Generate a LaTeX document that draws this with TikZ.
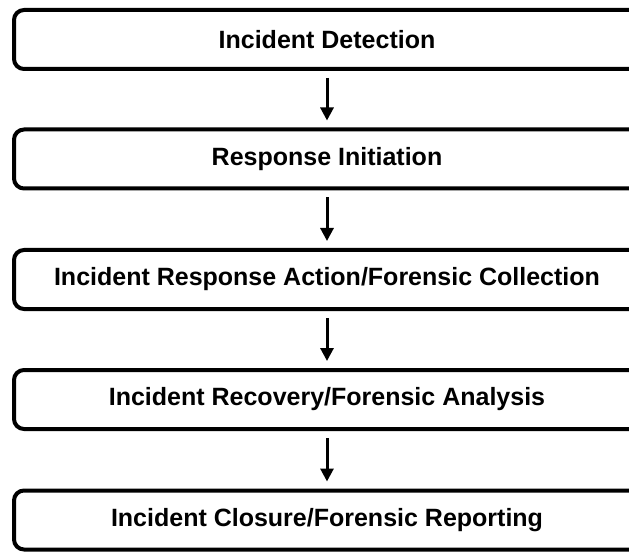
\documentclass[tikz,border=0pt]{standalone}
\usepackage{fontspec}
\setmainfont{Liberation Sans}
\usetikzlibrary{positioning,arrows.meta}

\begin{document}
\begin{tikzpicture}[x=1pt, y=1pt,
    stage/.style={draw, line width=4pt, rounded corners=10pt, minimum width=626pt, minimum height=59pt, font=\fontsize{25}{30}\selectfont\bfseries},
    flow/.style={-{Triangle[length=13pt,width=13pt]}, line width=3pt}]
    \useasboundingbox (0,0) rectangle (629,555);

    % Stages
    \node[stage] (detect)   at (327,515.5) {Incident Detection};
    \node[stage] (initiate) at (327,396)   {Response Initiation};
    \node[stage] (collect)  at (327,275.5) {Incident Response Action/Forensic Collection};
    \node[stage] (recover)  at (327,155.5) {Incident Recovery/Forensic Analysis};
    \node[stage] (closure)  at (327,35)    {Incident Closure/Forensic Reporting};

    % Arrows between stages
    \foreach \from/\to in {detect/initiate, initiate/collect, collect/recover, recover/closure}
        \draw[flow] ([yshift=-7pt]\from.south) -- ([yshift=7pt]\to.north);
\end{tikzpicture}
\end{document}
